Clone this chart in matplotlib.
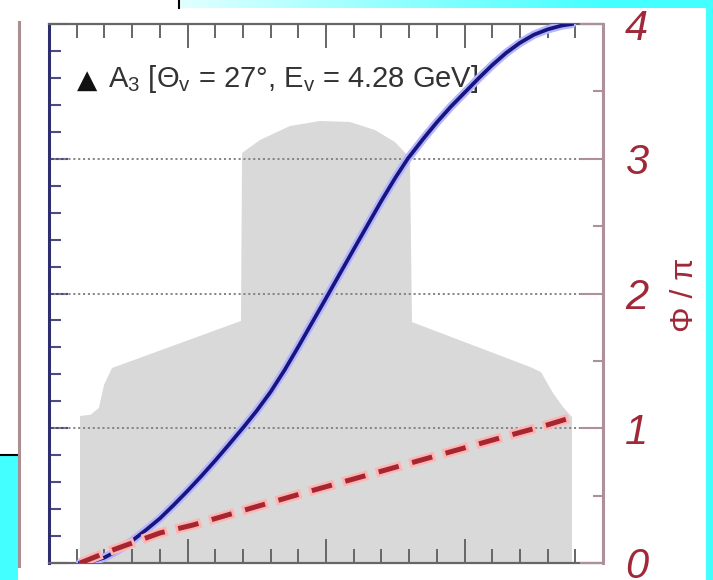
import numpy as np
import matplotlib.pyplot as plt
from matplotlib.lines import Line2D
from matplotlib.patches import Rectangle
from matplotlib.ticker import MultipleLocator

plt.rcParams['font.family'] = ['Liberation Sans', 'DejaVu Sans']
plt.rcParams['mathtext.fontset'] = 'custom'
plt.rcParams['mathtext.rm'] = 'Liberation Sans'
plt.rcParams['mathtext.it'] = 'Liberation Sans:italic'
plt.rcParams['lines.scale_dashes'] = False

# acceptance region (grey band)
band_x = [0.224, 0.224, 0.300, 0.360, 0.397, 0.455, 1.386, 1.394, 1.523, 1.740, 1.957,
          2.173, 2.354, 2.498, 2.606, 2.621, 3.473, 3.552, 3.639, 3.711, 3.776, 3.776]
band_y = [0.0, 1.091, 1.100, 1.150, 1.321, 1.447, 1.796, 3.043, 3.139, 3.243, 3.280,
          3.273, 3.213, 3.124, 3.006, 1.788, 1.455, 1.417, 1.262, 1.158, 1.083, 0.0]

# phase phi/pi, full curve
phase_x = [0.224, 0.30, 0.40, 0.50, 0.60, 0.70, 0.80, 0.90, 1.00, 1.10, 1.20, 1.30,
           1.41, 1.50, 1.60, 1.70, 1.80, 1.90, 2.00, 2.10, 2.20, 2.30, 2.40, 2.50,
           2.59, 2.70, 2.80, 2.90, 3.00, 3.10, 3.20, 3.30, 3.40, 3.50, 3.60, 3.70, 3.776]
phase_y = [0.000, 0.008, 0.040, 0.095, 0.165, 0.245, 0.330, 0.430, 0.535, 0.645,
           0.760, 0.880, 1.015, 1.130, 1.270, 1.430, 1.605, 1.785, 1.965, 2.147,
           2.328, 2.508, 2.688, 2.858, 3.000, 3.145, 3.270, 3.385, 3.490, 3.595,
           3.695, 3.785, 3.860, 3.920, 3.960, 3.988, 4.000]

# phase phi/pi, linear approximation
lin_x = [0.224, 0.440, 0.801, 1.040, 1.812, 2.534, 3.256, 3.596, 3.762]
lin_y = [0.0, 0.089, 0.223, 0.282, 0.512, 0.720, 0.928, 1.024, 1.076]

right_ticks = [0, 1, 2, 3, 4]
right_labels = ['0', '1', '2', '3', '4']
label_text = r'A$_{3}$ [Θ$_{\mathrm{v}}$ = 27°, E$_{\mathrm{v}}$ = 4.28 GeV]'

W, H = 713, 580
fig = plt.figure(figsize=(W / 100, H / 100), dpi=100, facecolor='#44ffff')

# white page behind the plot
for x0, y0, x1, y1 in [(18, 8, 706, 580), (0, 0, 18, 455), (0, 0, 178, 8)]:
    fig.patches.append(Rectangle((x0 / W, 1 - y1 / H), (x1 - x0) / W, (y1 - y0) / H,
                                 transform=fig.transFigure, color='white', lw=0, zorder=-10))

# light strip along the top
strip = fig.add_axes([180 / W, 1 - 8 / H, (W - 180) / W, 8 / H])
grad = np.clip(np.linspace(0, 1.25, 200), 0, 1)
cols = np.array([0.88, 1, 1])[None, :] * (1 - grad[:, None]) + np.array([0.267, 1, 1])[None, :] * grad[:, None]
strip.imshow(cols[None, :, :], aspect='auto')
strip.axis('off')

fig.add_artist(Line2D([178.5 / W, 178.5 / W], [1, 1 - 8 / H], color='black', lw=1.5))
fig.add_artist(Line2D([0, 18 / W], [1 - 455 / H, 1 - 455 / H], color='black', lw=1.5))
fig.add_artist(Line2D([19 / W, 19 / W], [1 - 22 / H, 1 - 566 / H], color='#aa8e92', lw=2.2))

ax = fig.add_axes([49 / W, 17 / H, 554 / W, 539 / H])
ax.set_facecolor('none')
ax.set_xlim(0, 4)
ax.set_ylim(0, 4)

ax.fill(band_x, band_y, color='#d9d9d9', lw=0, zorder=1)
for v in (1, 2, 3):
    ax.axhline(v, color='#858585', lw=1.4, ls=(0, (1.5, 2.0)), zorder=2)

ax.plot(phase_x, phase_y, color='#b4b4ff', lw=6, solid_capstyle='round', zorder=3)
ax.plot(phase_x, phase_y, color='#16167e', lw=2.7, zorder=4)

ax.plot(lin_x, lin_y, color='#ffb4b4', lw=7, ls=(2, (19, 6)), zorder=5)
ax.plot(lin_x, lin_y, color='#a42630', lw=3.6, ls=(0, (15, 10)), zorder=6)

ax.xaxis.set_major_locator(MultipleLocator(1))
ax.xaxis.set_minor_locator(MultipleLocator(0.2))
ax.yaxis.set_major_locator(MultipleLocator(1))
ax.yaxis.set_minor_locator(MultipleLocator(0.2))
ax.tick_params(axis='x', which='both', direction='in', top=True, bottom=True,
               labelbottom=False, color='#666666', width=1.4)
ax.tick_params(axis='x', which='major', length=17)
ax.tick_params(axis='x', which='minor', length=10)
ax.tick_params(axis='y', which='both', direction='in', left=True, right=False,
               labelleft=False, color='#4c4c82', width=1.5)
ax.tick_params(axis='y', which='major', length=14)
ax.tick_params(axis='y', which='minor', length=8.5)

ax.spines['left'].set_color('#2e2e6e')
ax.spines['left'].set_linewidth(2.2)
ax.spines['right'].set_visible(False)
for s in ('top', 'bottom'):
    ax.spines[s].set_color('#666666')
    ax.spines[s].set_linewidth(1.6)

ax2 = ax.twinx()
ax2.set_ylim(0, 4)
ax2.set_yticks(right_ticks, labels=right_labels, fontstyle='italic')
ax2.yaxis.set_minor_locator(MultipleLocator(0.5))
ax2.tick_params(axis='y', which='both', direction='in', color='#b09098', width=1.5,
                labelsize=30, labelcolor='#a02838', pad=16)
ax2.tick_params(axis='y', which='major', length=16.5)
ax2.tick_params(axis='y', which='minor', length=7)
for s in ('left', 'top', 'bottom'):
    ax2.spines[s].set_visible(False)
ax2.spines['right'].set_color('#b09098')
ax2.spines['right'].set_linewidth(2.2)

fig.text(685 / W, 1 - 295 / H, 'Φ / π', rotation=90, fontsize=23, color='#a02838',
         ha='center', va='center')

ax.text(0.205, 3.53, '▲', fontsize=19, family='DejaVu Sans', color='#111111', va='baseline')
ax.text(0.426, 3.53, label_text, fontsize=21, color='#333333', va='baseline', zorder=2)

fig.savefig('out.png', dpi=100, facecolor=fig.get_facecolor())
